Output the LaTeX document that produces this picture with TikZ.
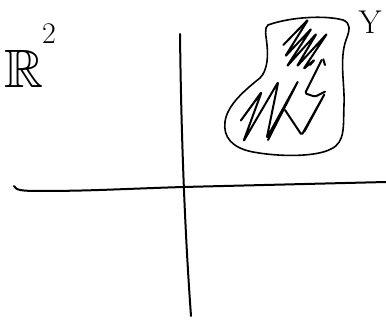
\documentclass[tikz,border=0pt]{standalone}
\usepackage{amssymb}
\begin{document}
\begin{tikzpicture}[x=1pt,y=-1pt,
  ink/.style={line width=2pt,line cap=round,line join=round},
  lbl/.style={inner sep=0pt}]
\useasboundingbox[fill=white] (0,0) rectangle (386,321);
% axes
\coordinate (hl) at (14,186);
\coordinate (hr) at (386,182);
\coordinate (vt) at (180,34);
\coordinate (vb) at (191,316);
\draw[ink] (hl) .. controls (16,190) and (20,191) .. (40,191) .. controls (90,191) and (120,189) .. (183,187) -- (hr);
\draw[ink] (vt) .. controls (181,120) and (184,220) .. (vb);
% blob
\draw[ink,line width=1.6pt] (268,25) .. controls (290,17) and (325,15) .. (343,20)
  .. controls (351,23) and (350,30) .. (346,40)
  .. controls (339,60) and (345,85) .. (344,105)
  .. controls (343,125) and (346,142) .. (331,149)
  .. controls (316,157) and (280,157) .. (253,152)
  .. controls (232,148) and (223,137) .. (225,122)
  .. controls (227,105) and (245,90) .. (260,78)
  .. controls (268,70) and (268,55) .. (267,45)
  .. controls (266,35) and (264,28) .. (268,25) -- cycle;
% scribbles
\draw[ink,rounded corners=1.5pt] (283.3,45) -- (308.3,19.3) -- (285,56.7) -- (311.7,28.3) -- (286.7,66.7) -- (316.7,33.3) -- (296.7,66.7) -- (327.3,33.3) -- (303.3,69.3) -- (315,59.3) -- (310,65);
\draw[ink] (323.3,59.3) -- (325,65);
\draw[ink,rounded corners=1.5pt] (258.3,96.7) -- (240,121.7) -- (261.7,91.7) -- (243.3,141.7) -- (278.3,81.7) -- (266.7,138.3) -- (298.3,80.7) -- (268,140);
\draw[ink,rounded corners=1.5pt] (285,110) -- (301.7,135) -- (325,93.3) -- (304.3,131.7);
\draw[ink,rounded corners=1.5pt] (321.7,60) -- (305,93.3) -- (315,96.7) -- (325,91.7);
% labels
\node[lbl,anchor=base west,font=\fontsize{54}{54}\selectfont] (r2) at (4,88) {$\mathbb{R}$\kern-1pt\raisebox{44pt}{\fontsize{30}{30}\selectfont 2}};
\node[lbl,font=\fontsize{33}{33}\selectfont] (y) at (370,22) {Y};
\end{tikzpicture}
\end{document}
